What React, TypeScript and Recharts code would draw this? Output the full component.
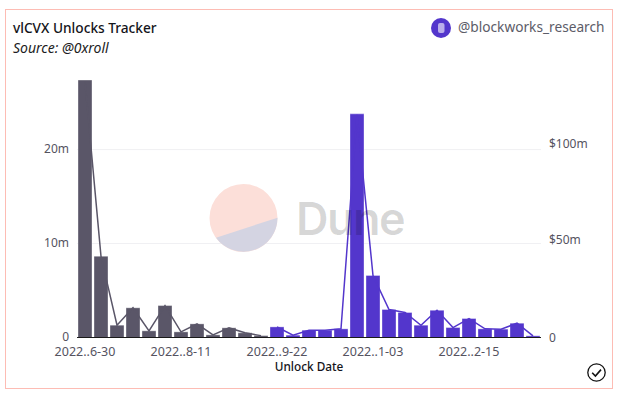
import { ComposedChart, Bar, Line, Cell, XAxis, YAxis, CartesianGrid } from "recharts";

const FONT = "'Noto Sans', sans-serif";
const GREY = "#5a5668";
const PURPLE = "#5336cc";

const unlockDates = [
  "2022-06-30", "2022-07-07", "2022-07-14", "2022-07-21", "2022-07-28", "2022-08-04",
  "2022-08-11", "2022-08-18", "2022-08-25", "2022-09-01", "2022-09-08", "2022-09-15",
  "2022-09-22", "2022-09-29", "2022-10-06", "2022-10-13", "2022-10-20", "2022-10-27",
  "2022-11-03", "2022-11-10", "2022-11-17", "2022-11-24", "2022-12-01", "2022-12-08",
  "2022-12-15", "2022-12-22", "2022-12-29", "2023-01-05", "2023-01-12",
];
// vlCVX unlocked per week
const unlockAmounts = [
  27.4, 8.65, 1.31, 3.16, 0.71, 3.4, 0.6, 1.45, 0.28, 1.03, 0.5, 0.2, 1.13, 0.25, 0.78,
  0.78, 0.92, 23.8, 6.6, 2.98, 2.66, 1.31, 2.9, 1.06, 2.02, 0.92, 0.89, 1.52, 0.18,
];
// dollar value, split in two so each part gets its own colour
const valuePast = [136, 43.2, 6.5, 15.8, 3.5, 17, 3, 7.2, 1.4, 5.1, 2.5, 1, null, null, null, null, null, null, null, null, null, null, null, null, null, null, null, null, null];
const valueUpcoming = [null, null, null, null, null, null, null, null, null, null, null, null, 5.6, 1.2, 3.9, 3.9, 4.6, 118.5, 33, 14.9, 13.3, 6.5, 14.5, 5.3, 10.1, 4.6, 4.4, 7.6, 0.9];
const PAST_COUNT = 12;

const leftTicks = [0, 10, 20];
const rightTicks = [0, 50, 100];

const chartData = unlockDates.map((date, i) => ({
  date,
  amount: unlockAmounts[i],
  past: valuePast[i],
  upcoming: valueUpcoming[i],
}));

const shortDate = (d: string) => d.slice(0, 4) + ".." + d.slice(-4);

function RightTick({ x, y, payload }: any) {
  const v = payload.value;
  const label = v === 0 ? "0" : "$" + v + "m";
  const dy = v === 0 ? 4 : v === 50 ? 0 : -2;
  return (
    <text x={x} y={y + dy} fontSize={12} fill="#55535f" fontFamily={FONT}>
      {label}
    </text>
  );
}

function LeftTick({ x, y, payload }: any) {
  const label = payload.value === 0 ? "0" : payload.value + "m";
  return (
    <text x={x} y={y + 3} textAnchor="end" fontSize={12} fill="#55535f" fontFamily={FONT}>
      {label}
    </text>
  );
}

export default function App() {
  return (
    <div style={{ position: "absolute", left: 0, top: 0, width: 622, height: 396, background: "#fff", overflow: "hidden", fontFamily: FONT }}>
      <div style={{ position: "absolute", left: 5, top: 9, width: 606, height: 378, border: "1px solid #fdbcb4" }} />
      <div style={{ position: "absolute", left: 13, top: 18, fontSize: 13.7, fontWeight: 500, color: "#14141a", lineHeight: "20px" }}>
        vlCVX Unlocks Tracker
      </div>
      <div style={{ position: "absolute", left: 13, top: 39, fontSize: 14, fontStyle: "italic", color: "#1c1c22", lineHeight: "18px" }}>
        Source: @0xroll
      </div>
      <div style={{ position: "absolute", left: 458, top: 17, fontSize: 13.7, color: "#5c5c68", lineHeight: "20px" }}>
        @blockworks_research
      </div>

      <div style={{ position: "absolute", left: 0, top: 0 }}>
        <ComposedChart
          width={622}
          height={396}
          data={chartData}
          barCategoryGap={1}
          margin={{ top: 65, right: 21, bottom: 26.5, left: 37 }}
        >
          <CartesianGrid yAxisId="left" vertical={false} stroke="#f0f0f3" horizontalValues={leftTicks} />
          <XAxis
            dataKey="date"
            interval={5}
            height={32}
            tickLine={false}
            tickMargin={4}
            axisLine={{ stroke: "#1a1a1a" }}
            tickFormatter={shortDate}
            tick={{ fontSize: 12.5, fill: "#55535f", fontFamily: FONT }}
            label={{ value: "Unlock Date", position: "insideBottom", offset: -1, fontSize: 11.8, fontWeight: 500, fill: "#14141a", fontFamily: FONT }}
          />
          <YAxis yAxisId="left" width={40} domain={[0, 29]} ticks={leftTicks} axisLine={false} tickLine={false} tick={<LeftTick />} />
          <YAxis yAxisId="right" orientation="right" width={60} domain={[0, 145]} ticks={rightTicks} axisLine={false} tickLine={false} tick={<RightTick />} />
          <Line yAxisId="right" dataKey="past" stroke={GREY} strokeWidth={1.5} dot={false} isAnimationActive={false} />
          <Line yAxisId="right" dataKey="upcoming" stroke={PURPLE} strokeWidth={1.5} dot={false} isAnimationActive={false} />
          <Bar yAxisId="left" dataKey="amount" isAnimationActive={false} stroke="#ffffff" strokeOpacity={0.35}>
            {chartData.map((d, i) => (
              <Cell key={d.date} fill={i < PAST_COUNT ? GREY : PURPLE} />
            ))}
          </Bar>
        </ComposedChart>
      </div>

      {/* Dune watermark and the small icons */}
      <svg width={622} height={396} style={{ position: "absolute", left: 0, top: 0, pointerEvents: "none" }}>
        <circle cx={243.5} cy={218} r={34} fill="#fcdfd9" />
        <path d="M216 237.7 A34 34 0 0 0 277.5 217.7 Z" fill="#d4d4e2" />
        <text x={296} y={235} fontSize={45} fontWeight={600} letterSpacing={-1.5} fontFamily="Inter, sans-serif" fill="#000" fillOpacity={0.16}>
          Dune
        </text>
        <circle cx={441} cy={28} r={10} fill={PURPLE} />
        <rect x={438} y={23} width={6.5} height={10} rx={2} fill="#fff" fillOpacity={0.6} />
        <circle cx={596.5} cy={372.5} r={8.7} fill="none" stroke="#111" strokeWidth={1.3} />
        <path d="M592.2 372.8 L595.4 376 L601 369.6" fill="none" stroke="#111" strokeWidth={1.6} />
      </svg>
    </div>
  );
}
